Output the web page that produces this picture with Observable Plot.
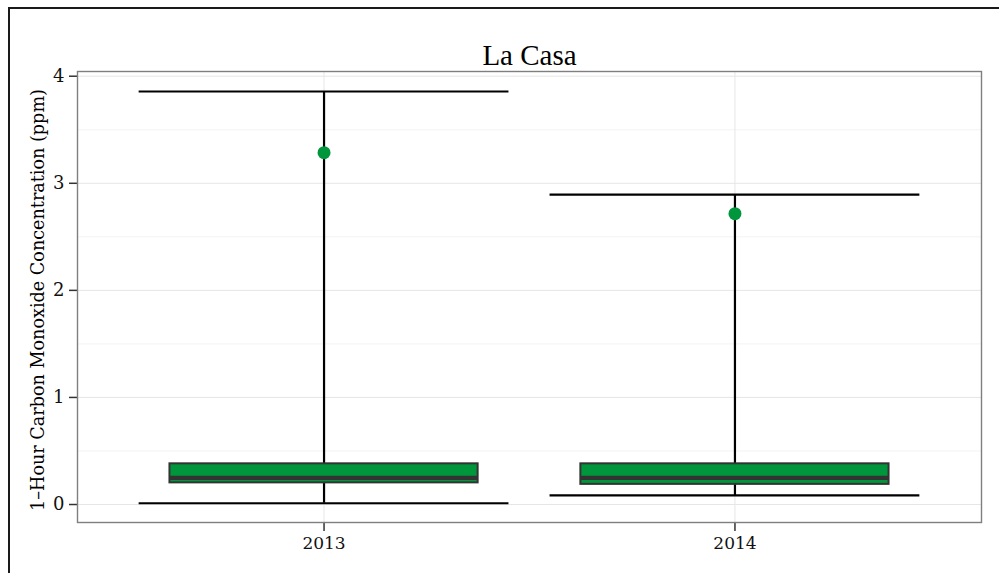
<!DOCTYPE html>
<html><head><meta charset="utf-8">
<script src="https://cdn.jsdelivr.net/npm/d3@7"></script>
<script src="https://cdn.jsdelivr.net/npm/@observablehq/plot@0.6"></script>
<style>
html,body{margin:0;padding:0;background:#fff;}
#wrap{position:relative;width:999px;height:573px;overflow:hidden;}
#border{position:absolute;left:8px;top:7px;width:1200px;height:800px;border-left:2px solid #1a1a1a;border-top:2px solid #1a1a1a;pointer-events:none;}
</style></head><body>
<div id="wrap"><div id="chart"></div><div id="border"></div></div>
<script>
const title = "La Casa";
const yLabel = "1\u2013Hour Carbon Monoxide Concentration (ppm)";
const years = ["2013", "2014"];
const whiskerLow = [0.012, 0.085];
const q1 = [0.202, 0.188];
const median = [0.248, 0.249];
const q3 = [0.380, 0.380];
const whiskerHigh = [3.857, 2.895];
const means = [3.286, 2.716];
const yTicks = [0, 1, 2, 3, 4];
const yMinor = [0.5, 1.5, 2.5, 3.5];

const data = years.map((year, i) => ({
  year, pos: i + 1,
  lo: whiskerLow[i], q1: q1[i], med: median[i], q3: q3[i], hi: whiskerHigh[i], mean: means[i]
}));

const green = "#00963c";
const capHalf = 0.45, boxHalf = 0.375;

const chart = Plot.plot({
  width: 999, height: 573,
  marginLeft: 77, marginRight: 18, marginTop: 71, marginBottom: 51,
  style: {fontFamily: "'DejaVu Serif', serif", fontSize: "16px", color: "#111", background: "#fff"},
  x: {domain: [0.4, 2.6]},
  y: {domain: [-0.168, 4.044]},
  marks: [
    Plot.ruleY(yMinor, {stroke: "#f3f3f3", strokeWidth: 1}),
    Plot.ruleY(yTicks, {stroke: "#e6e6e6", strokeWidth: 1}),
    Plot.ruleX(data, {x: "pos", stroke: "#e6e6e6", strokeWidth: 1}),
    Plot.axisY({ticks: yTicks, tickFormat: d => String(d), tickSize: 8, tickPadding: 5, stroke: "#333", strokeWidth: 1.5, label: null, fontSize: 18}),
    Plot.axisX({ticks: data.map(d => d.pos), tickFormat: p => years[p - 1], tickSize: 9, tickPadding: 5, stroke: "#333", strokeWidth: 1.5, label: null, fontSize: 17}),
    Plot.ruleX(data, {x: "pos", y1: "lo", y2: "hi", stroke: "#000", strokeWidth: 2.2}),
    Plot.ruleY(data, {y: "lo", x1: d => d.pos - capHalf, x2: d => d.pos + capHalf, stroke: "#000", strokeWidth: 2.2}),
    Plot.ruleY(data, {y: "hi", x1: d => d.pos - capHalf, x2: d => d.pos + capHalf, stroke: "#000", strokeWidth: 2.2}),
    Plot.rect(data, {x1: d => d.pos - boxHalf, x2: d => d.pos + boxHalf, y1: "q1", y2: "q3", fill: green, stroke: "#333", strokeWidth: 2}),
    Plot.ruleY(data, {y: "med", x1: d => d.pos - boxHalf, x2: d => d.pos + boxHalf, stroke: "#333", strokeWidth: 4.3}),
    Plot.dot(data, {x: "pos", y: "mean", r: 6.5, fill: green}),
    Plot.frame({stroke: "#7f7f7f", strokeWidth: 1.4}),
    Plot.text([title], {frameAnchor: "top", dy: -7, lineAnchor: "bottom", fontSize: 29, fontFamily: "'Liberation Serif', serif", fill: "#000"}),
    Plot.text([yLabel], {frameAnchor: "left", textAnchor: "middle", rotate: -90, dx: -39, dy: 3, fontSize: 17.6, fill: "#000"})
  ]
});
document.getElementById("chart").appendChild(chart);
</script>
</body></html>
